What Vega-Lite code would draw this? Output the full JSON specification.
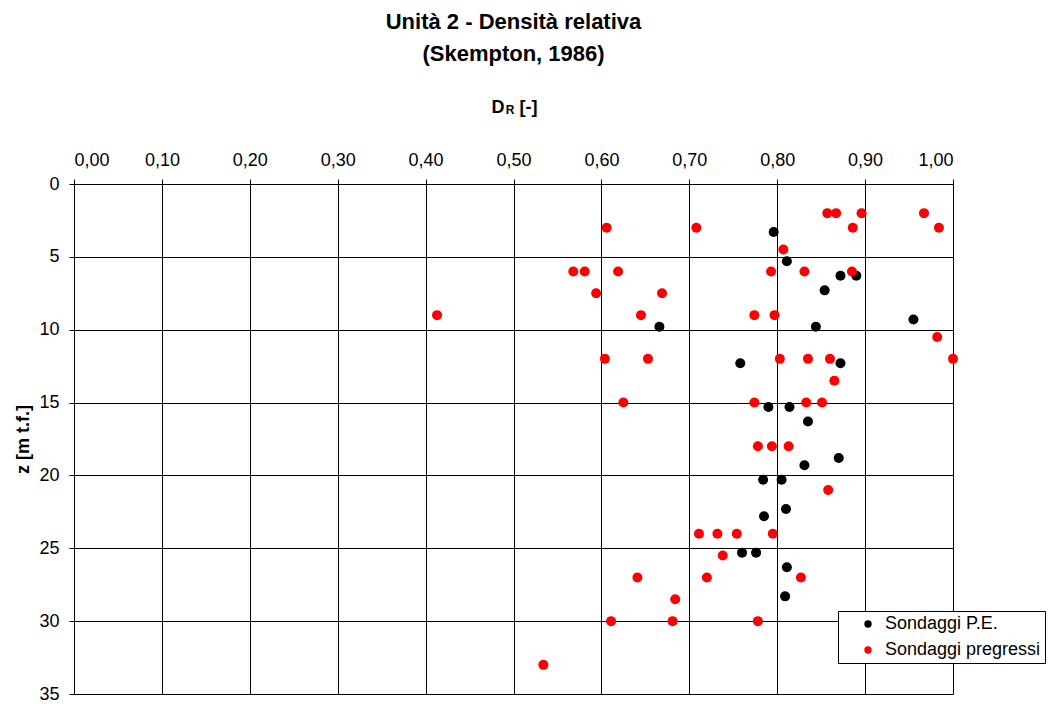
{
  "$schema": "https://vega.github.io/schema/vega-lite/v6.json",
  "autosize": {"type": "none"},
  "width": 879,
  "height": 510,
  "padding": {"left": 74, "top": 184, "right": 96, "bottom": 10},
  "background": "#ffffff",
  "config": {
    "font": "Liberation Sans",
    "view": {"stroke": null},
    "axis": {
      "labelFont": "Liberation Sans",
      "labelFontSize": 18,
      "labelColor": "#000000",
      "titleFont": "Liberation Sans",
      "titleColor": "#000000",
      "tickColor": "#000000",
      "domainColor": "#000000",
      "gridColor": "#000000",
      "gridOpacity": 1,
      "tickSize": 5,
      "labelPadding": 10
    },
    "legend": {
      "labelFont": "Liberation Sans",
      "labelFontSize": 18,
      "labelColor": "#000000"
    }
  },
  "title": {
    "text": ["Unità 2 - Densità relativa", "(Skempton, 1986)"],
    "fontSize": 22,
    "fontWeight": "bold",
    "font": "Liberation Sans",
    "color": "#000000",
    "lineHeight": 32,
    "anchor": "middle",
    "offset": 32
  },
  "data": {
    "values": [
      {"serie": "Sondaggi P.E.", "dr": 0.796, "z": 3.3},
      {"serie": "Sondaggi P.E.", "dr": 0.811, "z": 5.3},
      {"serie": "Sondaggi P.E.", "dr": 0.872, "z": 6.3},
      {"serie": "Sondaggi P.E.", "dr": 0.890, "z": 6.3},
      {"serie": "Sondaggi P.E.", "dr": 0.854, "z": 7.3},
      {"serie": "Sondaggi P.E.", "dr": 0.955, "z": 9.3},
      {"serie": "Sondaggi P.E.", "dr": 0.666, "z": 9.8},
      {"serie": "Sondaggi P.E.", "dr": 0.844, "z": 9.8},
      {"serie": "Sondaggi P.E.", "dr": 0.758, "z": 12.3},
      {"serie": "Sondaggi P.E.", "dr": 0.872, "z": 12.3},
      {"serie": "Sondaggi P.E.", "dr": 0.790, "z": 15.3},
      {"serie": "Sondaggi P.E.", "dr": 0.814, "z": 15.3},
      {"serie": "Sondaggi P.E.", "dr": 0.835, "z": 16.3},
      {"serie": "Sondaggi P.E.", "dr": 0.870, "z": 18.8},
      {"serie": "Sondaggi P.E.", "dr": 0.831, "z": 19.3},
      {"serie": "Sondaggi P.E.", "dr": 0.784, "z": 20.3},
      {"serie": "Sondaggi P.E.", "dr": 0.805, "z": 20.3},
      {"serie": "Sondaggi P.E.", "dr": 0.810, "z": 22.3},
      {"serie": "Sondaggi P.E.", "dr": 0.785, "z": 22.8},
      {"serie": "Sondaggi P.E.", "dr": 0.760, "z": 25.3},
      {"serie": "Sondaggi P.E.", "dr": 0.776, "z": 25.3},
      {"serie": "Sondaggi P.E.", "dr": 0.811, "z": 26.3},
      {"serie": "Sondaggi P.E.", "dr": 0.809, "z": 28.3},
      {"serie": "Sondaggi pregressi", "dr": 0.857, "z": 2},
      {"serie": "Sondaggi pregressi", "dr": 0.867, "z": 2},
      {"serie": "Sondaggi pregressi", "dr": 0.896, "z": 2},
      {"serie": "Sondaggi pregressi", "dr": 0.967, "z": 2},
      {"serie": "Sondaggi pregressi", "dr": 0.606, "z": 3},
      {"serie": "Sondaggi pregressi", "dr": 0.708, "z": 3},
      {"serie": "Sondaggi pregressi", "dr": 0.886, "z": 3},
      {"serie": "Sondaggi pregressi", "dr": 0.984, "z": 3},
      {"serie": "Sondaggi pregressi", "dr": 0.807, "z": 4.5},
      {"serie": "Sondaggi pregressi", "dr": 0.568, "z": 6},
      {"serie": "Sondaggi pregressi", "dr": 0.581, "z": 6},
      {"serie": "Sondaggi pregressi", "dr": 0.619, "z": 6},
      {"serie": "Sondaggi pregressi", "dr": 0.793, "z": 6},
      {"serie": "Sondaggi pregressi", "dr": 0.831, "z": 6},
      {"serie": "Sondaggi pregressi", "dr": 0.885, "z": 6},
      {"serie": "Sondaggi pregressi", "dr": 0.594, "z": 7.5},
      {"serie": "Sondaggi pregressi", "dr": 0.669, "z": 7.5},
      {"serie": "Sondaggi pregressi", "dr": 0.413, "z": 9},
      {"serie": "Sondaggi pregressi", "dr": 0.645, "z": 9},
      {"serie": "Sondaggi pregressi", "dr": 0.774, "z": 9},
      {"serie": "Sondaggi pregressi", "dr": 0.797, "z": 9},
      {"serie": "Sondaggi pregressi", "dr": 0.982, "z": 10.5},
      {"serie": "Sondaggi pregressi", "dr": 0.604, "z": 12},
      {"serie": "Sondaggi pregressi", "dr": 0.653, "z": 12},
      {"serie": "Sondaggi pregressi", "dr": 0.803, "z": 12},
      {"serie": "Sondaggi pregressi", "dr": 0.835, "z": 12},
      {"serie": "Sondaggi pregressi", "dr": 0.860, "z": 12},
      {"serie": "Sondaggi pregressi", "dr": 1.000, "z": 12},
      {"serie": "Sondaggi pregressi", "dr": 0.865, "z": 13.5},
      {"serie": "Sondaggi pregressi", "dr": 0.625, "z": 15},
      {"serie": "Sondaggi pregressi", "dr": 0.774, "z": 15},
      {"serie": "Sondaggi pregressi", "dr": 0.833, "z": 15},
      {"serie": "Sondaggi pregressi", "dr": 0.851, "z": 15},
      {"serie": "Sondaggi pregressi", "dr": 0.778, "z": 18},
      {"serie": "Sondaggi pregressi", "dr": 0.794, "z": 18},
      {"serie": "Sondaggi pregressi", "dr": 0.813, "z": 18},
      {"serie": "Sondaggi pregressi", "dr": 0.858, "z": 21},
      {"serie": "Sondaggi pregressi", "dr": 0.711, "z": 24},
      {"serie": "Sondaggi pregressi", "dr": 0.732, "z": 24},
      {"serie": "Sondaggi pregressi", "dr": 0.754, "z": 24},
      {"serie": "Sondaggi pregressi", "dr": 0.795, "z": 24},
      {"serie": "Sondaggi pregressi", "dr": 0.738, "z": 25.5},
      {"serie": "Sondaggi pregressi", "dr": 0.641, "z": 27},
      {"serie": "Sondaggi pregressi", "dr": 0.720, "z": 27},
      {"serie": "Sondaggi pregressi", "dr": 0.827, "z": 27},
      {"serie": "Sondaggi pregressi", "dr": 0.684, "z": 28.5},
      {"serie": "Sondaggi pregressi", "dr": 0.611, "z": 30},
      {"serie": "Sondaggi pregressi", "dr": 0.681, "z": 30},
      {"serie": "Sondaggi pregressi", "dr": 0.778, "z": 30},
      {"serie": "Sondaggi pregressi", "dr": 0.534, "z": 33}
    ]
  },
  "resolve": {"axis": {"x": "independent", "y": "independent"}},
  "encoding": {
    "color": {
      "field": "serie",
      "type": "nominal",
      "scale": {
        "domain": ["Sondaggi P.E.", "Sondaggi pregressi"],
        "range": ["#000000", "#ff0000"]
      },
      "legend": {
        "title": null,
        "orient": "none",
        "legendX": 764,
        "legendY": 427,
        "padding": 4,
        "rowPadding": 8,
        "symbolType": "circle",
        "symbolSize": 55,
        "symbolStrokeWidth": 0,
        "symbolOffset": 17,
        "labelOffset": 8,
        "strokeColor": "#000000",
        "fillColor": "#ffffff",
        "cornerRadius": 0
      }
    }
  },
  "layer": [
    {
      "transform": [{"filter": "datum.serie === 'Sondaggi P.E.'"}],
      "mark": {"type": "circle", "size": 100, "opacity": 1},
      "encoding": {
        "x": {
          "field": "dr",
          "type": "quantitative",
          "scale": {"domain": [0, 1], "nice": false, "zero": false},
          "axis": {
            "orient": "top",
            "values": [0, 0.1, 0.2, 0.3, 0.4, 0.5, 0.6, 0.7, 0.8, 0.9, 1.0],
            "labelExpr": "replace(format(datum.value, '.2f'), '.', ',')",
            "title": "D",
            "titleFontSize": 18,
            "titleFontWeight": "bold",
            "titleX": 423.5,
            "titleY": -72,
            "titleAlign": "center",
            "titleBaseline": "alphabetic",
            "grid": true,
            "gridWidth": 1
          }
        },
        "y": {
          "field": "z",
          "type": "quantitative",
          "scale": {"domain": [0, 35], "reverse": true, "nice": false, "zero": false},
          "axis": {
            "orient": "left",
            "values": [0, 5, 10, 15, 20, 25, 30, 35],
            "title": "z [m t.f.]",
            "titleFontSize": 18,
            "titleFontWeight": "bold",
            "titleAngle": 270,
            "titleX": -46,
            "titleY": 255,
            "titleAlign": "center",
            "titleBaseline": "alphabetic",
            "grid": true,
            "gridWidth": 1
          }
        }
      }
    },
    {
      "transform": [{"filter": "datum.serie === 'Sondaggi pregressi'"}],
      "mark": {"type": "circle", "size": 100, "opacity": 1},
      "encoding": {
        "x": {
          "field": "dr",
          "type": "quantitative",
          "axis": {
            "orient": "top",
            "labels": false,
            "ticks": false,
            "domain": false,
            "grid": false,
            "title": "R",
            "titleFontSize": 12,
            "titleFontWeight": "bold",
            "titleX": 435.7,
            "titleY": -71,
            "titleAlign": "center",
            "titleBaseline": "alphabetic"
          }
        },
        "y": {
          "field": "z",
          "type": "quantitative",
          "axis": {
            "orient": "right",
            "labels": false,
            "ticks": false,
            "domain": false,
            "grid": false,
            "title": "[-]",
            "titleFontSize": 18,
            "titleFontWeight": "bold",
            "titleAngle": 0,
            "titleX": -425,
            "titleY": -72,
            "titleAlign": "center",
            "titleBaseline": "alphabetic"
          }
        }
      }
    }
  ]
}
